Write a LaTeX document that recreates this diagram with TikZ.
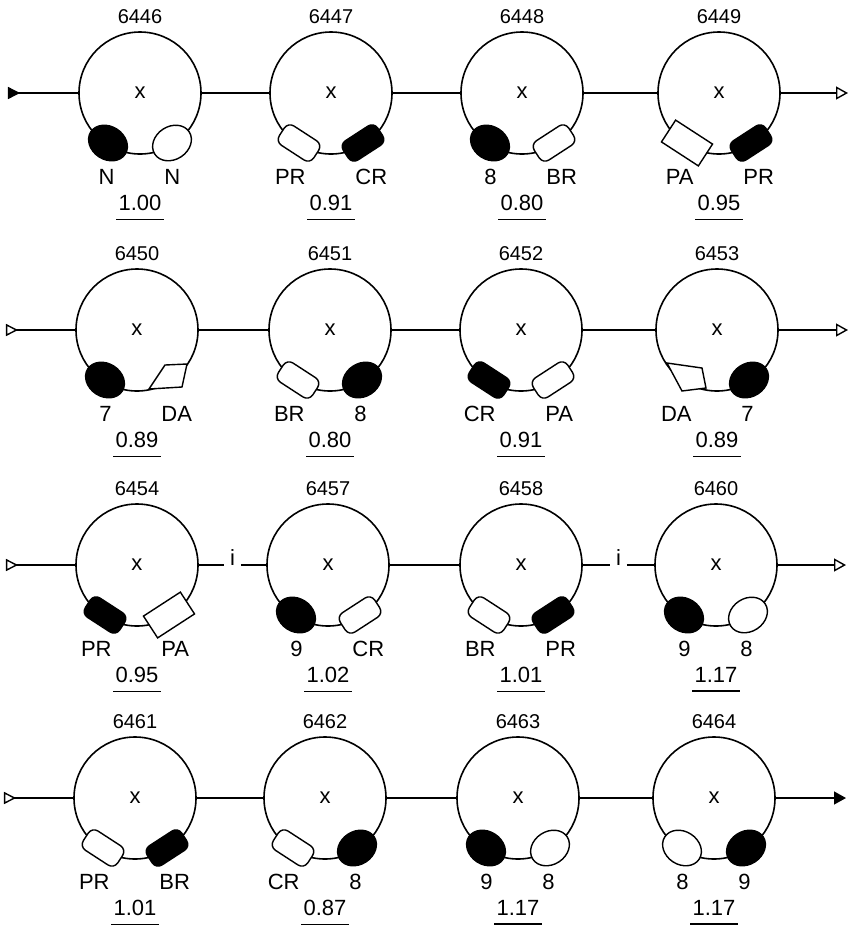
\documentclass[tikz,border=0pt]{standalone}
\usepackage{fontspec}
\setmainfont{Liberation Sans}
\usetikzlibrary{arrows.meta,shapes.geometric,calc}

\begin{document}
\begin{tikzpicture}[
		x=0.5pt, y=-0.5pt,
		font=\fontsize{11}{13}\selectfont,
		plasmid/.style={
			circle, draw=black, line width=0.8pt, fill=white,
			minimum size=61pt, inner sep=0pt
		},
		num/.style={font=\fontsize{10}{12}\selectfont, inner sep=0pt},
		geneL/.style={inner sep=1pt, anchor=east},
		geneR/.style={inner sep=1pt, anchor=west},
		ratiolbl/.style={inner xsep=1pt, inner ysep=4pt},
		ovB/.style={
			ellipse, draw=black, line width=0.7pt, fill=black,
			minimum width=20.5pt, minimum height=16.5pt, inner sep=0pt
		},
		ovW/.style={ovB, fill=white},
		rrB/.style={
			rectangle, rounded corners=3.5pt, draw=black, line width=0.7pt, fill=black,
			minimum width=20.5pt, minimum height=11.5pt, inner sep=0pt
		},
		rrW/.style={rrB, fill=white},
		rcW/.style={
			rectangle, draw=black, line width=0.7pt, fill=white,
			minimum width=22pt, minimum height=13pt, inner sep=0pt
		},
		skipblob/.style={inner sep=0pt},
		brk/.style={inner xsep=2.8pt, anchor=base},
		conn/.style={line width=0.7pt},
		inB/.style={conn, {Triangle[reversed,length=6pt,width=6pt]}-},
		inO/.style={conn, {Triangle[open,reversed,length=6pt,width=6pt]}-},
		outO/.style={conn, -{Triangle[open,length=6pt,width=6.5pt]}},
		outB/.style={conn, -{Triangle[length=6pt,width=6.5pt]}}
	]
	\useasboundingbox (0,0) rectangle (854,934);
	\foreach \id/\cx/\cy/\ls/\lt/\rs/\rt/\val in {
		6446/140/93/ovB/N/ovW/N/1.00, 6447/331/93/rrW/PR/rrB/CR/0.91,
		6448/522/93/ovB/8/rrW/BR/0.80, 6449/719/93/rcW/PA/rrB/PR/0.95,
		6450/137/330/ovB/7/skipblob/DA/0.89, 6451/330/330/rrW/BR/ovB/8/0.80,
		6452/521/330/rrB/CR/rrW/PA/0.91, 6453/717/330/skipblob/DA/ovB/7/0.89,
		6454/137/565/rrB/PR/rcW/PA/0.95, 6457/328/565/ovB/9/rrW/CR/1.02,
		6458/521/565/rrW/BR/rrB/PR/1.01, 6460/716/565/ovB/9/ovW/8/1.17,
		6461/135/798/rrW/PR/rrB/BR/1.01, 6462/325/798/rrW/CR/ovB/8/0.87,
		6463/518/798/ovB/9/ovW/8/1.17, 6464/714/798/ovW/8/ovB/9/1.17}{
		\node[plasmid] (p\id) at (\cx,\cy) {x};
		\node[num] (n\id) at ($(p\id)+(0,-76)$) {\id};
		\node[\ls, rotate=-33] (l\id) at ($(p\id)+(-32,50)$) {};
		\node[\rs, rotate=33] (r\id) at ($(p\id)+(32,50)$) {};
		\node[geneL] (a\id) at ($(p\id)+(-23,84)$) {\lt};
		\node[geneR] (b\id) at ($(p\id)+(22,84)$) {\rt};
		\node[ratiolbl] (v\id) at ($(p\id)+(0,110)$) {\val};
		\draw[line width=0.6pt] (v\id.south west) -- (v\id.south east);
	}
	% DA blobs
	\draw[line width=0.7pt, fill=white] ($(p6450)+(12,59)$) -- ($(p6450)+(28,35)$)
		-- ($(p6450)+(50,34)$) -- ($(p6450)+(45,57)$) -- cycle;
	\draw[line width=0.7pt, fill=white] ($(p6453)+(-50,33)$) -- ($(p6453)+(-15,38)$)
		-- ($(p6453)+(-11,58)$) -- ($(p6453)+(-35,61)$) -- cycle;
	
	\foreach \a/\b in {6446/6447, 6447/6448, 6448/6449, 6450/6451, 6451/6452,
		6452/6453, 6457/6458, 6461/6462, 6462/6463, 6463/6464}
	\draw[conn] (p\a) -- (p\b);
	
	\node[brk] (i1) at ($(p6454.east)!0.5!(p6457.west)$) {i};
	\node[brk] (i2) at ($(p6458.east)!0.5!(p6460.west)$) {i};
	\draw[conn] (p6454) -- (i1.base west);
	\draw[conn] (i1.base east) -- (p6457);
	\draw[conn] (p6458) -- (i2.base west);
	\draw[conn] (i2.base east) -- (p6460);
	
	\coordinate (in1) at (8,93);
	\coordinate (in2) at (6,330);
	\coordinate (in3) at (6,565);
	\coordinate (in4) at (4,798);
	\coordinate (out1) at (848,93);
	\coordinate (out2) at (848,330);
	\coordinate (out3) at (846,565);
	\coordinate (out4) at (846,798);
	\draw[inB] (in1) -- (p6446);
	\draw[inO] (in2) -- (p6450);
	\draw[inO] (in3) -- (p6454);
	\draw[inO] (in4) -- (p6461);
	\draw[outO] (p6449) -- (out1);
	\draw[outO] (p6453) -- (out2);
	\draw[outO] (p6460) -- (out3);
	\draw[outB] (p6464) -- (out4);
\end{tikzpicture}
\end{document}
